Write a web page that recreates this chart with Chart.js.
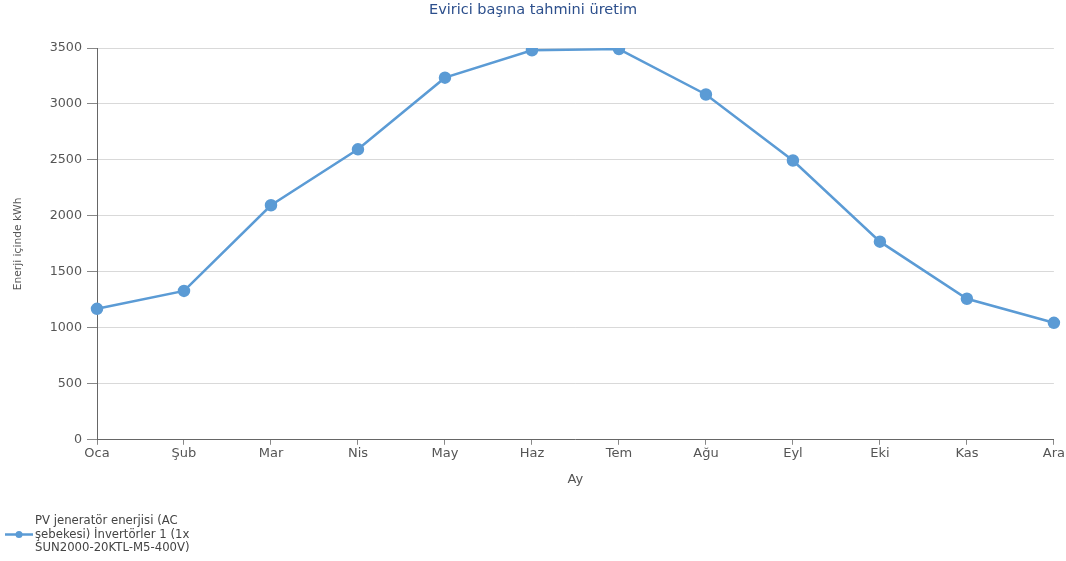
<!DOCTYPE html>
<html>
<head>
<meta charset="utf-8">
<script src="https://cdn.jsdelivr.net/npm/chart.js@4/dist/chart.umd.min.js"></script>
<style>
  html, body { margin: 0; padding: 0; background: #fff; }
  #wrap { width: 1066px; height: 561px; }
</style>
</head>
<body>
<div id="wrap"><canvas id="c"></canvas></div>
<script>
const months = ["Oca", "Şub", "Mar", "Nis", "May", "Haz", "Tem", "Ağu", "Eyl", "Eki", "Kas", "Ara"];
const energyKwh = [1170, 1330, 2095, 2595, 3235, 3480, 3490, 3085, 2495, 1770, 1260, 1045];
const seriesLabel = ["PV jeneratör enerjisi (AC", "şebekesi) İnvertörler 1 (1x", "SUN2000-20KTL-M5-400V)"];

const FONT = "'DejaVu Sans', Verdana, sans-serif";
const BLUE = "#5b9bd5";

// legend is drawn by hand because the text wraps on three lines
const bottomLegend = {
  id: "bottomLegend",
  afterDraw(chart) {
    const ctx = chart.ctx;
    const ds = chart.data.datasets[0];
    const lines = ds.label;
    const x0 = 5, top = 521, lh = 13.5;
    const midY = top + lh;
    ctx.save();
    ctx.strokeStyle = BLUE;
    ctx.lineWidth = 2.5;
    ctx.beginPath();
    ctx.moveTo(x0, midY);
    ctx.lineTo(x0 + 28, midY);
    ctx.stroke();
    ctx.fillStyle = BLUE;
    ctx.beginPath();
    ctx.arc(x0 + 14, midY, 3.5, 0, Math.PI * 2);
    ctx.fill();
    ctx.fillStyle = "#444";
    ctx.font = "11.7px " + FONT;
    ctx.textBaseline = "middle";
    lines.forEach((t, i) => ctx.fillText(t, x0 + 30, top + i * lh));
    ctx.restore();
  }
};

new Chart(document.getElementById("c"), {
  type: "line",
  data: {
    labels: months,
    datasets: [{
      label: seriesLabel,
      data: energyKwh,
      borderColor: BLUE,
      backgroundColor: BLUE,
      borderWidth: 2.5,
      pointRadius: 5,
      pointHoverRadius: 5,
      tension: 0,
    }],
  },
  options: {
    responsive: true,
    maintainAspectRatio: false,
    animation: false,
    layout: { padding: { left: 0, right: 0, top: 0, bottom: 74 } },
    plugins: {
      legend: { display: false },
      tooltip: { enabled: false },
      title: {
        display: true,
        text: "Evirici başına tahmini üretim",
        color: "#2c4f8c",
        font: { family: FONT, size: 14.5, weight: "normal" },
        padding: { top: 2, bottom: 28.6 },
      },
    },
    scales: {
      x: {
        offset: false,
        border: { color: "#666", width: 1 },
        grid: { drawOnChartArea: false, drawTicks: true, tickLength: 5, tickColor: "#888" },
        ticks: { color: "#555", font: { family: FONT, size: 13 }, padding: 1, maxRotation: 0, autoSkip: false },
        title: { display: true, text: "Ay", color: "#555", font: { family: FONT, size: 13 }, padding: { top: 9, bottom: 0 } },
      },
      y: {
        min: 0,
        max: 3500,
        border: { color: "#666", width: 1 },
        grid: { color: "#d9d9d9", tickLength: 10, tickColor: "#888" },
        ticks: { stepSize: 500, color: "#555", font: { family: FONT, size: 12.7 }, padding: 5, callback: v => String(v) },
        title: { display: true, text: "Enerji içinde kWh", color: "#555", font: { family: FONT, size: 10.7 }, padding: { top: 12, bottom: 0 } },
        afterFit(scale) { scale.width = 97; },
      },
    },
  },
  plugins: [bottomLegend],
});
</script>
</body>
</html>
